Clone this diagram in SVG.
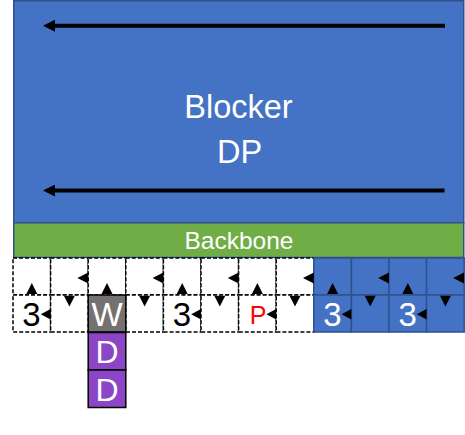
<svg xmlns="http://www.w3.org/2000/svg" width="465" height="435" viewBox="0 0 465 435">
  <defs>
    <style>
      .txt { font-family: "Liberation Sans", Arial, sans-serif; text-anchor: middle; }
      .wc { fill: #FFFFFF; stroke: #000000; stroke-width: 1.5; stroke-dasharray: 4 2; }
      .bc { fill: #4472C4; stroke: #2F528F; stroke-width: 1.5; }
      .tri { fill: #000000; stroke: none; }
      .big { font-size: 32.5px; fill: #FFFFFF; }
      .num { font-size: 33px; }
      .arrow { stroke: #000000; stroke-width: 4; fill: none; marker-end: url(#ah); }
    </style>
    <marker id="ah" markerWidth="12" markerHeight="12" refX="5" refY="6" orient="auto" markerUnits="userSpaceOnUse">
      <path d="M0,0 L12,6 L0,12 Z" fill="#000000"/>
    </marker>
  </defs>

  <g id="blocker-dp">
    <rect x="13.75" y="0.75" width="450" height="222" fill="#4472C4" stroke="#2F528F" stroke-width="1.5"/>
    <text class="txt big" x="238.5" y="118.3">Blocker</text>
    <text class="txt big" x="239.5" y="163.3">DP</text>
  </g>

  <g id="backbone">
    <rect x="13.75" y="222.75" width="450" height="34.75" fill="#70AD47" stroke="#2F528F" stroke-width="1.5"/>
    <text class="txt" x="239" y="249.3" font-size="24.5" fill="#FFFFFF">Backbone</text>
  </g>

  <g id="cells-top">
    <rect class="wc" x="13" y="258" width="37.6" height="37"/>
    <rect class="wc" x="50.6" y="258" width="37.6" height="37"/>
    <rect class="wc" x="88.2" y="258" width="37.6" height="37"/>
    <rect class="wc" x="125.8" y="258" width="37.6" height="37"/>
    <rect class="wc" x="163.4" y="258" width="37.6" height="37"/>
    <rect class="wc" x="201" y="258" width="37.6" height="37"/>
    <rect class="wc" x="238.6" y="258" width="37.6" height="37"/>
    <rect class="wc" x="276.2" y="258" width="37.6" height="37"/>
    <rect class="bc" x="313.8" y="258" width="37.6" height="37"/>
    <rect class="bc" x="351.4" y="258" width="37.6" height="37"/>
    <rect class="bc" x="389" y="258" width="37.6" height="37"/>
    <rect class="bc" x="426.6" y="258" width="37.6" height="37"/>
  </g>

  <g id="cells-bottom">
    <rect class="wc" x="13" y="295" width="37.6" height="37"/>
    <rect class="wc" x="50.6" y="295" width="37.6" height="37"/>
    <rect class="wc" x="125.8" y="295" width="37.6" height="37"/>
    <rect class="wc" x="163.4" y="295" width="37.6" height="37"/>
    <rect class="wc" x="201" y="295" width="37.6" height="37"/>
    <rect class="wc" x="238.6" y="295" width="37.6" height="37"/>
    <rect class="wc" x="276.2" y="295" width="37.6" height="37"/>
    <rect class="bc" x="313.8" y="295" width="37.6" height="37"/>
    <rect class="bc" x="351.4" y="295" width="37.6" height="37"/>
    <rect class="bc" x="389" y="295" width="37.6" height="37"/>
    <rect class="bc" x="426.6" y="295" width="37.6" height="37"/>
  </g>

  <g id="cell-W">
    <rect x="88.2" y="295" width="37.6" height="37" fill="#767171" stroke="#000000" stroke-width="1.5"/>
    <text class="txt num" x="107" y="326" fill="#FFFFFF">W</text>
  </g>
  <g id="cell-D1">
    <rect x="88.2" y="332.5" width="37.6" height="37.5" fill="#8B45C6" stroke="#000000" stroke-width="1.5"/>
    <text class="txt" x="107" y="363" font-size="32" fill="#FFFFFF">D</text>
  </g>
  <g id="cell-D2">
    <rect x="88.2" y="370" width="37.6" height="37.5" fill="#8B45C6" stroke="#000000" stroke-width="1.5"/>
    <text class="txt" x="107" y="400.5" font-size="32" fill="#FFFFFF">D</text>
  </g>

  <g id="cell-labels">
    <text class="txt num" x="31.5" y="326" fill="#000000">3</text>
    <text class="txt num" x="182" y="326" fill="#000000">3</text>
    <text class="txt" x="258" y="324" font-size="25" fill="#FF0000">P</text>
    <text class="txt num" x="332.5" y="326" fill="#FFFFFF">3</text>
    <text class="txt num" x="407.8" y="326" fill="#FFFFFF">3</text>
  </g>

  <g id="connectors">
    <line class="arrow" x1="445" y1="25.7" x2="50" y2="25.7"/>
    <line class="arrow" x1="444.5" y1="190.5" x2="50" y2="190.5"/>
    <g class="tri">
      <!-- up, top row -->
      <polygon points="26.3,294 37.3,294 31.8,283"/>
      <polygon points="101.5,294 112.5,294 107,283"/>
      <polygon points="176.7,294 187.7,294 182.2,283"/>
      <polygon points="251.9,294 262.9,294 257.4,283"/>
      <polygon points="327.1,294 338.1,294 332.6,283"/>
      <polygon points="402.3,294 413.3,294 407.8,283"/>
      <!-- left, top row -->
      <polygon points="88.2,272.5 88.2,283.5 77.4,278"/>
      <polygon points="163.4,272.5 163.4,283.5 152.6,278"/>
      <polygon points="238.6,272.5 238.6,283.5 227.8,278"/>
      <polygon points="313.8,272.5 313.8,283.5 303,278"/>
      <polygon points="389,272.5 389,283.5 378.2,278"/>
      <polygon points="464,272.5 464,283.5 453.2,278"/>
      <!-- down, bottom row -->
      <polygon points="63.9,295.8 74.9,295.8 69.4,306.5"/>
      <polygon points="139.1,295.8 150.1,295.8 144.6,306.5"/>
      <polygon points="214.3,295.8 225.3,295.8 219.8,306.5"/>
      <polygon points="289.5,295.8 300.5,295.8 295,306.5"/>
      <polygon points="364.7,295.8 375.7,295.8 370.2,306.5"/>
      <polygon points="439.9,295.8 450.9,295.8 445.4,306.5"/>
      <!-- left, bottom row -->
      <polygon points="50.6,309 50.6,319.5 40.8,314.2"/>
      <polygon points="201,309 201,319.5 191.2,314.2"/>
      <polygon points="276.2,309 276.2,319.5 266.4,314.2"/>
      <polygon points="351.4,309 351.4,319.5 341.6,314.2"/>
      <polygon points="426.6,309 426.6,319.5 416.8,314.2"/>
    </g>
  </g>
</svg>
